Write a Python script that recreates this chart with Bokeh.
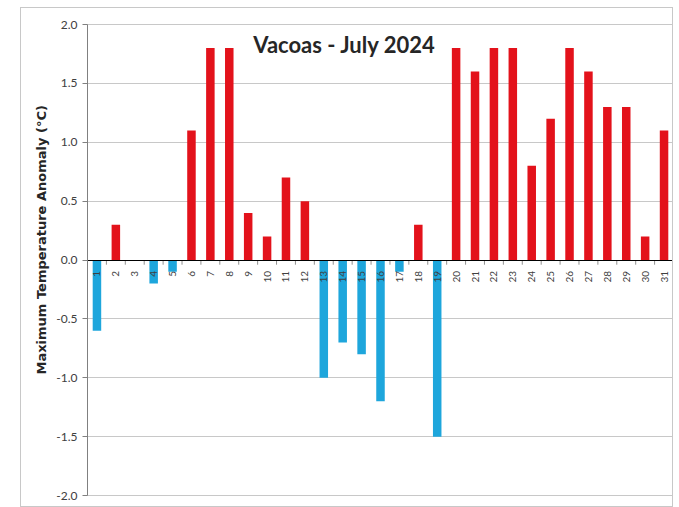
import math
from bokeh.plotting import figure
from bokeh.models import ColumnDataSource, Label, FactorRange, SingleIntervalTicker, NumeralTickFormatter, Title
from bokeh.embed import file_html
from bokeh.resources import INLINE

days = [str(d) for d in range(1, 32)]
anomaly = [-0.6, 0.3, 0.0, -0.2, -0.1, 1.1, 1.8, 1.8, 0.4, 0.2, 0.7, 0.5,
           -1.0, -0.7, -0.8, -1.2, -0.1, 0.3, -1.5, 1.8, 1.6, 1.8, 1.8, 0.8,
           1.2, 1.8, 1.6, 1.3, 1.3, 0.2, 1.1]
title_text = "Vacoas - July 2024"
y_label = "Maximum  Temperature Anomaly (\u00b0C)"

RED = "#e3121b"
BLUE = "#1ea6dc"
colors = [RED if v > 0 else BLUE for v in anomaly]

src = ColumnDataSource(dict(day=days, val=anomaly, color=colors))

p = figure(width=653, height=500, x_range=FactorRange(*days), y_range=(-2.0, 2.0),
           output_backend="svg", toolbar_location=None,
           min_border_left=66, min_border_right=1, min_border_top=16, min_border_bottom=13)
p.margin = (7, 0, 0, 20)
p.styles = {"border": "1px solid #c8c8c8", "box-sizing": "border-box"}

p.vbar(x="day", top="val", bottom=0, width=0.45, fill_color="color", line_color=None, source=src)

# category boundary tick marks along the zero line
bounds = list(range(0, len(days) + 1))
p.segment(x0=bounds, x1=bounds, y0=[0] * len(bounds), y1=[-0.04] * len(bounds),
          line_color="#909090", line_width=1)

p.xaxis.fixed_location = 0
p.xaxis.major_label_orientation = math.pi / 2
p.xaxis.major_tick_line_color = None
p.xaxis.minor_tick_line_color = None
p.xaxis.axis_line_color = "#000000"
p.xaxis.axis_line_width = 1
p.xaxis.major_label_text_font = "Lato"
p.xaxis.major_label_text_font_size = "10px"
p.xaxis.major_label_text_color = "#404040"
p.xaxis.major_label_standoff = 5

p.yaxis.ticker = SingleIntervalTicker(interval=0.5)
p.yaxis.formatter = NumeralTickFormatter(format="0.0")
p.yaxis.minor_tick_line_color = None
p.yaxis.major_tick_in = 0
p.yaxis.major_tick_out = 5
p.yaxis.major_tick_line_color = "#808080"
p.yaxis.axis_line_color = "#808080"
p.yaxis.major_label_text_font = "Lato"
p.yaxis.major_label_text_font_size = "12px"
p.yaxis.major_label_text_color = "#404040"
p.yaxis.major_label_standoff = 5

ylab = Title(text=y_label, align="left", offset=121,
             text_font="DejaVu Sans", text_font_size="13px",
             text_font_style="bold", text_color="#262626", standoff=10)
p.add_layout(ylab, "left")

p.xgrid.grid_line_color = None
p.ygrid.ticker = SingleIntervalTicker(interval=0.5)
p.ygrid.grid_line_color = "#c8c8c8"
p.outline_line_color = "#c8c8c8"
p.background_fill_color = "white"

p.add_layout(Label(x=13.6, y=1.83, text=title_text, text_align="center",
                   text_baseline="middle", text_font="Lato",
                   text_font_size="22px", text_font_style="bold", text_color="#262626"))

open("out.html", "w").write(file_html(p, INLINE))
